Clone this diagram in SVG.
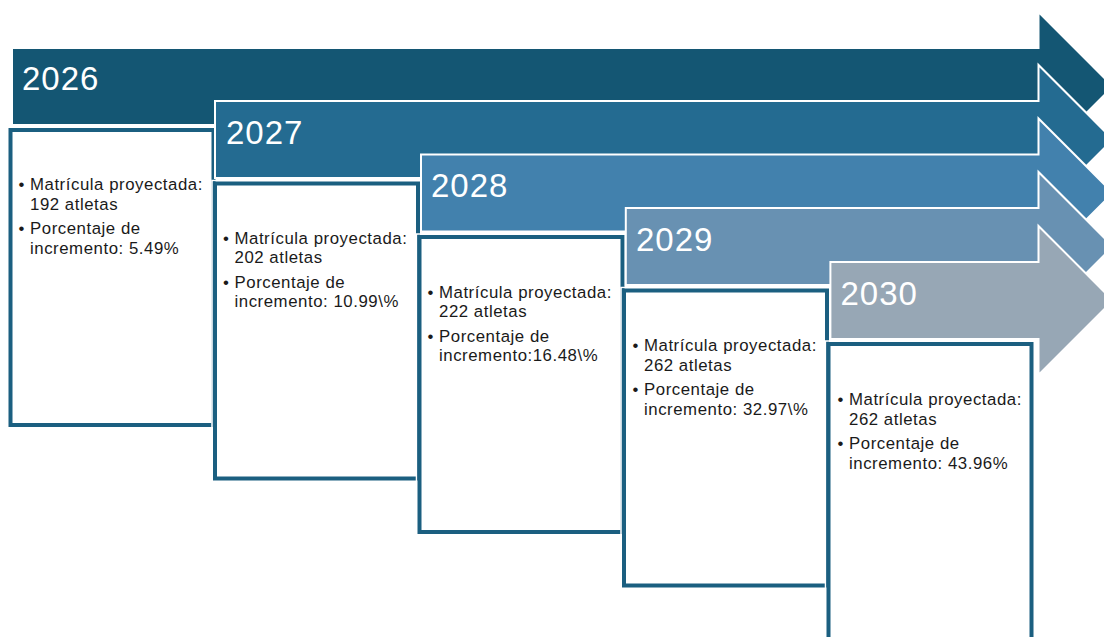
<svg xmlns="http://www.w3.org/2000/svg" width="1104" height="637" viewBox="0 0 1104 637">
<style>
.arrow{stroke:#ffffff;stroke-width:2;stroke-linejoin:miter}
.box{fill:#ffffff;stroke:#1b5f80;stroke-width:4}
.boxo{fill:none;stroke:#ffffff;stroke-width:1.5}
.year{font-family:"Liberation Sans",Arial,sans-serif;font-size:33px;fill:#ffffff;letter-spacing:1px}
.txt{font-family:"Liberation Sans",Arial,sans-serif;font-size:16.8px;fill:#1a1a1a;letter-spacing:0.55px}
.bul{letter-spacing:0}
</style>
<rect x="0" y="0" width="1104" height="637" fill="#ffffff"/>
<g id="node-2026">
<path class="arrow" fill="#145673" d="M12,48 H1038.5 V12 L1113,86.5 L1038.5,161 V125 H12 Z"/>
<text class="year" x="22" y="90">2026</text>
<rect class="boxo" x="7.5" y="127" width="209" height="301"/>
<rect class="box" x="10.5" y="130" width="203" height="295"/>
<text class="txt"><tspan class="bul" x="18.5" y="190">•</tspan><tspan x="30" y="190">Matrícula proyectada:</tspan><tspan x="30" y="209.5">192 atletas</tspan></text>
<text class="txt"><tspan class="bul" x="18.5" y="234">•</tspan><tspan x="30" y="234">Porcentaje de</tspan><tspan x="30" y="253.5">incremento: 5.49%</tspan></text>
</g>
<g id="node-2027">
<path class="arrow" fill="#246b91" d="M215,101 H1038.5 V65 L1113,139.5 L1038.5,214 V178 H215 Z"/>
<text class="year" x="226" y="143.5">2027</text>
<rect class="boxo" x="212" y="180.5" width="209" height="301"/>
<rect class="box" x="215" y="183.5" width="203" height="295"/>
<text class="txt"><tspan class="bul" x="223" y="243.5">•</tspan><tspan x="234.5" y="243.5">Matrícula proyectada:</tspan><tspan x="234.5" y="263">202 atletas</tspan></text>
<text class="txt"><tspan class="bul" x="223" y="287.5">•</tspan><tspan x="234.5" y="287.5">Porcentaje de</tspan><tspan x="234.5" y="307">incremento: 10.99\%</tspan></text>
</g>
<g id="node-2028">
<path class="arrow" fill="#4281ad" d="M421,154.5 H1038.5 V118.5 L1113,193 L1038.5,267.5 V231.5 H421 Z"/>
<text class="year" x="431" y="197">2028</text>
<rect class="boxo" x="416.5" y="234" width="209" height="301"/>
<rect class="box" x="419.5" y="237" width="203" height="295"/>
<text class="txt"><tspan class="bul" x="427.5" y="297.5">•</tspan><tspan x="439" y="297.5">Matrícula proyectada:</tspan><tspan x="439" y="317">222 atletas</tspan></text>
<text class="txt"><tspan class="bul" x="427.5" y="341.5">•</tspan><tspan x="439" y="341.5">Porcentaje de</tspan><tspan x="439" y="361">incremento:16.48\%</tspan></text>
</g>
<g id="node-2029">
<path class="arrow" fill="#6891b2" d="M625.8,208 H1038.5 V172 L1113,246.5 L1038.5,321 V285 H625.8 Z"/>
<text class="year" x="636" y="250.5">2029</text>
<rect class="boxo" x="621" y="287.5" width="209" height="301"/>
<rect class="box" x="624" y="290.5" width="203" height="295"/>
<text class="txt"><tspan class="bul" x="632.5" y="351">•</tspan><tspan x="644" y="351">Matrícula proyectada:</tspan><tspan x="644" y="370.5">262 atletas</tspan></text>
<text class="txt"><tspan class="bul" x="632.5" y="395">•</tspan><tspan x="644" y="395">Porcentaje de</tspan><tspan x="644" y="414.5">incremento: 32.97\%</tspan></text>
</g>
<g id="node-2030">
<path class="arrow" fill="#97a7b5" d="M830.4,262 H1038.5 V226 L1113,300.5 L1038.5,375 V339 H830.4 Z"/>
<text class="year" x="840.5" y="304.5">2030</text>
<rect class="boxo" x="825.5" y="341" width="209" height="301"/>
<rect class="box" x="828.5" y="344" width="203" height="295"/>
<text class="txt"><tspan class="bul" x="837.5" y="405">•</tspan><tspan x="849" y="405">Matrícula proyectada:</tspan><tspan x="849" y="424.5">262 atletas</tspan></text>
<text class="txt"><tspan class="bul" x="837.5" y="449">•</tspan><tspan x="849" y="449">Porcentaje de</tspan><tspan x="849" y="468.5">incremento: 43.96%</tspan></text>
</g>
<g id="connectors"></g>
</svg>
